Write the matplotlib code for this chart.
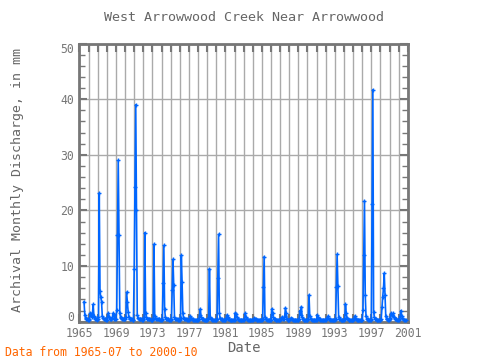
import numpy as np
import matplotlib
matplotlib.use('Agg')
import matplotlib.pyplot as plt
import matplotlib.transforms as mtransforms

# monthly discharge (mm), starting 1965-07, ending 2000-10
start_year = 1965
start_month = 7
discharge = [
    # 1965 Jul-Dec
    3.6, 1.2, 0.6, 0.5, 0.4, 0.3,
    # 1966
    0.3, 0.4, 1.5, 1.3, 0.8, 1.4, 3.1, 1.0, 0.6, 0.5, 0.4, 0.3,
    # 1967
    0.4, 0.8, 23.1, 5.5, 4.4, 3.6, 1.0, 0.6, 0.5, 0.5, 0.4, 0.3,
    # 1968
    0.3, 1.0, 1.5, 0.8, 0.5, 0.4, 0.4, 0.6, 1.5, 1.2, 0.5, 0.4,
    # 1969
    0.4, 2.1, 15.5, 29.0, 15.5, 1.5, 0.8, 0.6, 0.5, 0.5, 0.4, 0.4,
    # 1970
    0.4, 0.8, 5.3, 3.6, 1.8, 0.8, 0.5, 0.4, 0.4, 0.4, 0.3, 0.3,
    # 1971
    9.4, 24.3, 39.0, 20.0, 1.2, 0.6, 0.5, 0.4, 0.4, 0.4, 0.3, 0.3,
    # 1972
    0.4, 0.8, 16.0, 1.5, 0.8, 0.5, 0.4, 0.4, 0.4, 0.4, 0.3, 0.3,
    # 1973
    0.3, 0.5, 13.9, 1.0, 0.6, 0.5, 0.4, 0.4, 0.4, 0.4, 0.3, 0.3,
    # 1974
    0.3, 0.5, 6.9, 13.7, 2.3, 0.8, 0.5, 0.4, 0.4, 0.4, 0.3, 0.3,
    # 1975
    0.3, 0.5, 5.7, 11.2, 6.6, 0.8, 0.5, 0.4, 0.4, 0.4, 0.3, 0.3,
    # 1976
    0.3, 0.6, 11.9, 7.1, 1.5, 0.6, 0.4, 0.4, 0.4, 0.4, 0.3, 0.3,
    # 1977
    0.3, 0.5, 1.0, 0.6, 0.4, 0.4, 0.3, 0.3, 0.3, 0.3, 0.3, 0.3,
    # 1978
    0.3, 0.5, 1.2, 2.3, 0.8, 0.5, 0.4, 0.4, 0.3, 0.3, 0.3, 0.3,
    # 1979
    0.3, 0.4, 0.8, 9.5, 0.8, 0.5, 0.4, 0.3, 0.3, 0.3, 0.3, 0.3,
    # 1980
    0.3, 0.5, 7.9, 15.7, 1.5, 0.6, 0.4, 0.4, 0.3, 0.3, 0.3, 0.3,
    # 1981
    0.3, 0.6, 1.2, 0.8, 0.5, 0.4, 0.3, 0.3, 0.3, 0.3, 0.3, 0.3,
    # 1982
    0.3, 1.6, 1.3, 0.8, 0.5, 0.4, 0.3, 0.3, 0.3, 0.3, 0.3, 0.3,
    # 1983
    0.3, 0.5, 1.5, 0.9, 0.5, 0.4, 0.3, 0.3, 0.3, 0.3, 0.3, 0.3,
    # 1984
    0.3, 0.4, 0.6, 0.5, 0.4, 0.3, 0.3, 0.3, 0.3, 0.3, 0.3, 0.3,
    # 1985
    0.3, 0.5, 6.3, 11.7, 0.8, 0.5, 0.4, 0.3, 0.3, 0.3, 0.3, 0.3,
    # 1986
    0.3, 2.3, 1.5, 0.8, 0.5, 0.4, 0.3, 0.3, 0.3, 0.3, 0.3, 0.3,
    # 1987
    0.3, 0.4, 0.8, 0.6, 0.4, 0.4, 1.0, 2.5, 1.5, 0.5, 0.3, 0.3,
    # 1988
    0.3, 0.4, 0.6, 0.5, 0.4, 0.3, 0.3, 0.3, 0.3, 0.3, 0.3, 0.3,
    # 1989
    0.3, 0.5, 2.0, 1.2, 2.7, 0.8, 0.4, 0.3, 0.3, 0.3, 0.3, 0.3,
    # 1990
    0.3, 0.5, 4.8, 1.0, 0.5, 0.4, 0.3, 0.3, 0.3, 0.3, 0.3, 0.3,
    # 1991
    0.3, 1.2, 0.8, 0.5, 0.4, 0.3, 0.3, 0.3, 0.3, 0.3, 0.3, 0.3,
    # 1992
    0.3, 0.4, 0.6, 1.0, 0.5, 0.4, 0.3, 0.3, 0.3, 0.3, 0.3, 0.3,
    # 1993
    0.3, 0.5, 6.3, 12.1, 6.4, 0.8, 0.5, 0.4, 0.3, 0.3, 0.3, 0.3,
    # 1994
    0.3, 0.5, 3.1, 1.5, 0.6, 0.4, 0.3, 0.3, 0.3, 0.3, 0.3, 0.3,
    # 1995
    0.3, 0.4, 1.0, 0.6, 0.4, 0.3, 0.3, 0.3, 0.3, 0.3, 0.3, 0.3,
    # 1996
    0.3, 2.1, 11.9, 21.7, 4.8, 1.0, 0.5, 0.4, 0.3, 0.3, 0.3, 0.3,
    # 1997
    0.5, 21.1, 41.7, 1.8, 0.8, 0.5, 0.4, 0.3, 0.3, 0.3, 0.3, 0.3,
    # 1998
    0.3, 0.5, 2.6, 4.5, 6.0, 8.7, 4.8, 1.0, 0.5, 0.4, 0.3, 0.3,
    # 1999
    0.4, 0.6, 1.5, 1.2, 1.0, 1.5, 0.8, 0.5, 0.4, 0.4, 0.3, 0.3,
    # 2000 Jan-Oct
    0.3, 0.5, 1.0, 2.0, 1.0, 0.6, 0.4, 0.3, 0.3, 0.3,
]

year_ticks = list(range(1965, 2002))
year_labels = [str(y) if (y - 1965) % 4 == 0 else '' for y in year_ticks]
y_ticks = [0, 10, 20, 30, 40, 50]

grey = '#777777'
plt.rcParams['font.family'] = ['DejaVu Sans Mono']

months = np.arange(len(discharge)) + (start_month - 1)
dates = start_year + months / 12.0

fig = plt.figure(figsize=(4.8, 3.6), dpi=100)
ax = fig.add_axes([0.1656, 0.1064, 0.684, 0.7727])

ax.plot(dates, discharge, color='#0066ff', linewidth=1.2, marker='+',
        markersize=3, markeredgewidth=1.0, zorder=3)

ax.set_xlim(1965, 2001)
ax.set_ylim(0, 50)

ax.set_xticks(year_ticks)
ax.set_xticklabels(year_labels)
ax.set_yticks(y_ticks)
ax.set_yticks(np.arange(0, 51, 2), minor=True)
ax.grid(True, which='major', color='#aaaaaa', linewidth=1.0)
ax.tick_params(which='major', direction='in', length=6, width=1.5, color=grey,
               top=True, right=True, labelsize=8.3, labelcolor=grey, pad=4)
ax.tick_params(which='minor', direction='in', length=4, width=1.0, color=grey,
               left=True, right=True)
for s in ax.spines.values():
    s.set_color(grey)
    s.set_linewidth(2)

# nudge the end labels inside like the original
ylabs = ax.get_yticklabels()
ylabs[0].set_transform(ylabs[0].get_transform() +
                       mtransforms.ScaledTranslation(0, 4 / 72., fig.dpi_scale_trans))
ylabs[-1].set_transform(ylabs[-1].get_transform() +
                        mtransforms.ScaledTranslation(0, -3 / 72., fig.dpi_scale_trans))

ax.set_title('West Arrowwood Creek Near Arrowwood', color='#666666',
             fontsize=9.6, pad=16)
ax.set_ylabel('Archival Monthly Discharge, in mm', color='#666666', fontsize=9.5)
ax.yaxis.set_label_coords(-0.17, 0.51)
ax.set_xlabel('Date', color='#666666', fontsize=10)
ax.xaxis.set_label_coords(0.5, -0.07)
fig.text(0.01, 0.022, 'Data from 1965-07 to 2000-10', color='#ff6600',
         fontsize=8.3, ha='left', va='center')

fig.savefig('out.png', dpi=100)
